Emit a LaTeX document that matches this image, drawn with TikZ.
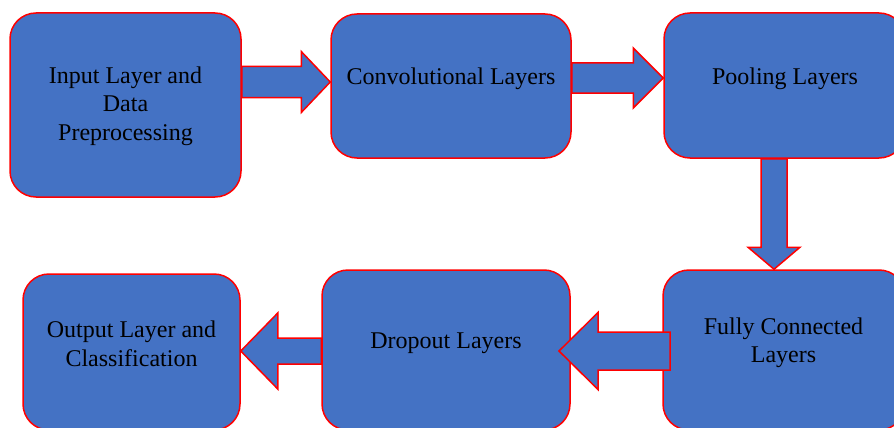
\documentclass[tikz,border=0pt]{standalone}
\usepackage{fontspec}
\setmainfont{Liberation Serif}
\usetikzlibrary{calc}

\definecolor{boxblue}{HTML}{4472C4}
\definecolor{edgered}{HTML}{FF0000}

\tikzset{
  stage/.style={draw=edgered, fill=boxblue, line width=1.5pt,
    rounded corners=26pt, inner sep=0pt},
  stagetext/.style={align=center, text=black, inner sep=0pt,
    font=\fontsize{24}{28.5}\selectfont},
  barrow/.style={draw=edgered, fill=boxblue, line width=1.5pt, line join=miter},
}

% block arrow: #1 tail, #2 tip, #3 shaft half width, #4 head half width, #5 head length
\newcommand\blockarrow[5]{%
  \coordinate (ba-h) at ($(#2)!#5!(#1)$);
  \draw[barrow] ($(#1)!#3!90:(#2)$) -- ($(ba-h)!#3!90:(#2)$)
    -- ($(ba-h)!#4!90:(#2)$) -- (#2) -- ($(ba-h)!#4!-90:(#2)$)
    -- ($(ba-h)!#3!-90:(#2)$) -- ($(#1)!#3!-90:(#2)$) -- cycle;}

\begin{document}
\begin{tikzpicture}[x=1pt, y=-1pt]
\useasboundingbox (0,0) rectangle (894,428);
\clip (0,0) rectangle (894,428);

% stages
\node[stage, minimum width=231pt, minimum height=184pt] (in)   at (125.5,105) {};
\node[stage, minimum width=240pt, minimum height=144pt] (conv) at (451,86) {};
\node[stage, minimum width=241pt, minimum height=145pt] (pool) at (784.5,85.5) {};
\node[stage, minimum width=242pt, minimum height=160pt] (fc)   at (784,350) {};
\node[stage, minimum width=248pt, minimum height=160pt] (drop) at (446,350) {};
\node[stage, minimum width=217pt, minimum height=156pt] (out)  at (131.5,352) {};

% labels
\node[stagetext] (in-t)   at (125.5,106) {Input Layer and\\Data\\Preprocessing};
\node[stagetext] (conv-t) at (451,79) {Convolutional Layers};
\node[stagetext] (pool-t) at (785,79) {Pooling Layers};
\node[stagetext] (fc-t)   at (783.5,343) {Fully Connected\\Layers};
\node[stagetext] (drop-t) at (446,343) {Dropout Layers};
\node[stagetext] (out-t)  at (131.5,344) {Output Layer and\\Classification};

% arrow end points
\coordinate (a1s) at (in.east |- 0,82);
\coordinate (a1e) at (conv.west |- 0,82);
\coordinate (a2s) at (conv.east |- 0,78);
\coordinate (a2e) at (pool.west |- 0,78);
\coordinate (a3s) at (774,0 |- pool.south);
\coordinate (a3e) at (774,0 |- fc.north);
\coordinate (a4s) at (670,351);
\coordinate (a4e) at (559,351);
\coordinate (a5s) at (drop.west |- 0,351);
\coordinate (a5e) at (out.east |- 0,351);

% flow arrows
\blockarrow{a1s}{a1e}{15.5pt}{30.5pt}{29pt}
\blockarrow{a2s}{a2e}{15pt}{30pt}{30pt}
\blockarrow{a3s}{a3e}{13pt}{26pt}{22pt}
\blockarrow{a4s}{a4e}{19pt}{38.5pt}{39pt}
\blockarrow{a5s}{a5e}{13pt}{38pt}{37pt}
\end{tikzpicture}
\end{document}
